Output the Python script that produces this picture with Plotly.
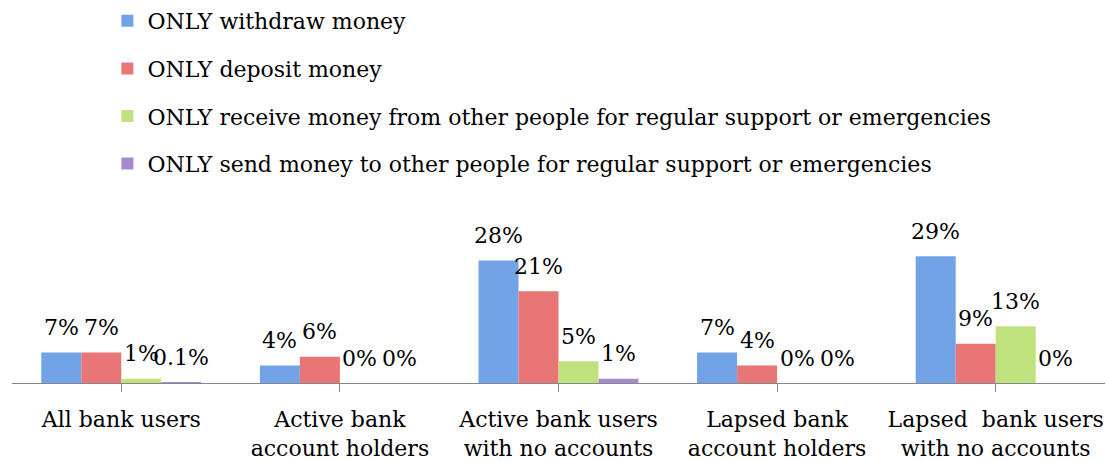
import plotly.graph_objects as go

# Customer segments and the share using each service exclusively
categories = [
    "All bank users",
    "Active bank<br>account holders",
    "Active bank users<br>with no accounts",
    "Lapsed bank<br>account holders",
    "Lapsed&nbsp; bank users<br>with no accounts",
]
series_names = [
    "ONLY withdraw money",
    "ONLY deposit money",
    "ONLY receive money from other people for regular support or emergencies",
    "ONLY send money to other people for regular support or emergencies",
]
withdraw = [0.07, 0.04, 0.28, 0.07, 0.29]
deposit = [0.07, 0.06, 0.21, 0.04, 0.09]
receive = [0.01, 0.00, 0.05, 0.00, 0.13]
send = [0.001, 0.00, 0.01, 0.00, 0.00]
value_labels = [
    ["7%", "4%", "28%", "7%", "29%"],
    ["7%", "6%", "21%", "4%", "9%"],
    ["1%", "0%", "5%", "0%", "13%"],
    ["0.1%", "0%", "1%", "0%", "0%"],
]

series_values = [withdraw, deposit, receive, send]
colors = ["#72A3E6", "#E87676", "#BFE27E", "#A68BD0"]

FONT = "DejaVu Serif"
BARGAP = 0.268

fig = go.Figure()
for k, (name, vals) in enumerate(zip(series_names, series_values)):
    fig.add_trace(go.Bar(
        x=list(range(len(categories))),
        y=vals,
        name=name,
        legendgroup=f"g{k}",
        marker=dict(color=colors[k], line=dict(width=0)),
        hoverinfo="skip",
    ))

# Value labels centred over each bar of the group
n = len(series_values)
group_w = 1 - BARGAP
for k, vals in enumerate(series_values):
    for i, v in enumerate(vals):
        xc = i - group_w / 2 + (k + 0.5) * group_w / n
        fig.add_annotation(
            x=xc, y=v, xref="x", yref="y",
            text=value_labels[k][i], showarrow=False,
            yanchor="middle", yshift=25,
            font=dict(family=FONT, size=22, color="#000000"),
        )

fig.update_layout(
    width=1107, height=461,
    margin=dict(l=12, r=2, t=230, b=78, autoexpand=False),
    paper_bgcolor="white", plot_bgcolor="white",
    barmode="group", bargap=BARGAP, bargroupgap=0,
    font=dict(family=FONT, size=22, color="#000000"),
    showlegend=True,
    legend=dict(
        xref="container", yref="container",
        x=0.097, y=1.014, xanchor="left", yanchor="top",
        font=dict(family=FONT, size=22, color="#000000"),
        tracegroupgap=16,
        bgcolor="rgba(0,0,0,0)",
    ),
    xaxis=dict(
        tickmode="array",
        tickvals=list(range(len(categories))),
        ticktext=categories,
        range=[-0.5, len(categories) - 0.5],
        showline=True, linecolor="#878787", linewidth=1,
        ticks="outside", tickson="boundaries", ticklen=8,
        tickcolor="#878787", tickwidth=1,
        ticklabelstandoff=9,
        showgrid=False, zeroline=False,
        tickfont=dict(family=FONT, size=22, color="#000000"),
    ),
    yaxis=dict(
        range=[0, 0.35],
        visible=False, showgrid=False, zeroline=False,
    ),
)

fig.write_html("out.html")
